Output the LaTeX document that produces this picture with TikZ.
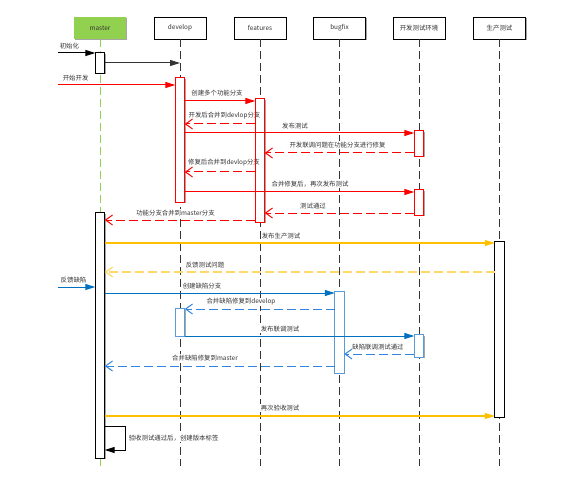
\documentclass[tikz,border=0pt]{standalone}
\usepackage{fontspec}
\newfontfamily\cjk{Noto Sans CJK SC}
\usetikzlibrary{arrows.meta,shadows}
\definecolor{mred}{HTML}{FF0000}
\definecolor{myel}{HTML}{FFC000}
\definecolor{mylt}{HTML}{FFD966}
\definecolor{mblu}{HTML}{0070C0}
\definecolor{mbld}{HTML}{2E86DE}
\definecolor{mblb}{HTML}{5B9BD5}
\definecolor{mgrn}{HTML}{92D050}
\definecolor{mtxt}{HTML}{333333}
\tikzset{
  lbl/.style={font=\cjk\fontsize{6.4}{7}\selectfont, text=mtxt, fill=white, inner sep=0.6pt},
  shd/.style={general shadow={fill=black!35, shadow xshift=1.2pt, shadow yshift=-1.2pt}},
  hdr/.style={draw=black, line width=0.9pt, fill=white, shd, minimum width=52pt, minimum height=22pt, inner sep=0pt, font=\cjk\fontsize{6.4}{7}\selectfont, text=mtxt},
  lifeline/.style={draw=black!80, line width=0.9pt, dash pattern=on 8pt off 4pt},
  actbox/.style={fill=white, shd, minimum width=9pt, inner sep=0pt},
  actborder/.style={draw=#1, line width=0.9pt},
  sync/.style={draw=#1, line width=1pt, -{Triangle[length=10pt,width=6pt]}},
  ret/.style={draw=#1, line width=1pt, dash pattern=on 9pt off 4pt, -{Straight Barb[length=7pt,width=10pt]}},
}
\begin{document}
\begin{tikzpicture}[x=1pt,y=-1pt]
\useasboundingbox (0,0) rectangle (584,500);
% headers
\node[hdr, draw=none, fill=mgrn, general shadow={}] (mH) at (100,28) {master};
\node[hdr] (dH) at (180,28) {develop};
\node[hdr] (fH) at (260,28) {features};
\node[hdr] (bH) at (339.5,28) {bugfix};
\node[hdr] (eH) at (419,28) {开发测试环境};
\node[hdr] (pH) at (499.5,28) {生产测试};
% lifeline ends
\coordinate (mE) at (100,466);
\coordinate (dE) at (180,466);
\coordinate (fE) at (260,466);
\coordinate (bE) at (339.5,466);
\coordinate (eE) at (419,466);
\coordinate (pE) at (499.5,466);
\draw[lifeline, draw=mgrn] (mH.south) -- (mE);
\draw[lifeline] (dH.south) -- (dE);
\draw[lifeline] (fH.south) -- (fE);
\draw[lifeline] (bH.south) -- (bE);
\draw[lifeline] (eH.south) -- (eE);
\draw[lifeline] (pH.south) -- (pE);
% activation areas
\node[actbox, minimum height=20pt] (mA1) at (100,63) {};
\node[actbox, minimum height=124pt] (dA1) at (180,140) {};
\node[actbox, minimum height=123pt] (fA1) at (260,160.5) {};
\node[actbox, minimum height=25pt] (eA1) at (419,143.5) {};
\node[actbox, minimum height=25pt] (eA2) at (419,202.5) {};
\node[actbox, minimum height=245pt] (mA2) at (100,335.5) {};
\node[actbox, minimum height=175pt] (pA) at (499.5,329.5) {};
\node[actbox, minimum height=81pt] (bA) at (339.5,332.5) {};
\node[actbox, minimum height=27pt] (dA2) at (180,322.5) {};
\node[actbox, minimum height=22pt] (eA3) at (419,346) {};
% labels
\node[lbl, anchor=west] (t1) at (59,46) {初始化};
\node[lbl, anchor=west] (t2) at (62,78) {开始开发};
\node[lbl] (t3) at (217,93) {创建多个功能分支};
\node[lbl] (t4) at (224.5,116) {开发后合并到devlop分支};
\node[lbl] (t5) at (295,126) {发布测试};
\node[lbl] (t6) at (337.5,145) {开发联调问题在功能分支进行修复};
\node[lbl] (t7) at (224,163) {修复后合并到devlop分支};
\node[lbl] (t8) at (310,184) {合并修复后，再次发布测试};
\node[lbl] (t9) at (313,206) {测试通过};
\node[lbl] (t10) at (175.5,213) {功能分支合并到master分支};
\node[lbl] (t11) at (281,236) {发布生产测试};
\node[lbl] (t12) at (205,265) {反馈测试问题};
\node[lbl] (t13) at (73.5,280) {反馈缺陷};
\node[lbl] (t14) at (202,286) {创建缺陷分支};
\node[lbl] (t15) at (241,302) {合并缺陷修复到develop};
\node[lbl] (t16) at (280,329) {发布联调测试};
\node[lbl] (t17) at (378,347) {缺陷联调测试通过};
\node[lbl] (t18) at (205,358) {合并缺陷修复到master};
\node[lbl] (t19) at (280,408) {再次验收测试};
\node[lbl, anchor=west] (t20) at (128,438) {验收测试通过后，创建版本标签};
% activation borders
\draw[actborder=black] (mA1.south west) rectangle (mA1.north east);
\draw[actborder=mred] (dA1.south west) rectangle (dA1.north east);
\draw[actborder=mred] (fA1.south west) rectangle (fA1.north east);
\draw[actborder=mred] (eA1.south west) rectangle (eA1.north east);
\draw[actborder=mred] (eA2.south west) rectangle (eA2.north east);
\draw[actborder=black] (mA2.south west) rectangle (mA2.north east);
\draw[actborder=black] (pA.south west) rectangle (pA.north east);
\draw[actborder=mblb] (bA.south west) rectangle (bA.north east);
\draw[actborder=mblb] (dA2.south west) rectangle (dA2.north east);
\draw[actborder=mblb] (eA3.south west) rectangle (eA3.north east);
% free ends
\coordinate (s1) at (58,53);
\coordinate (s2) at (58,85);
\coordinate (s3) at (58,287);
\coordinate (k1) at (125,426);
\coordinate (k2) at (125,450);
% messages
\draw[sync=black] (s1) -- (mA1.west |- s1);
\draw[sync=black!80] (mA1.east |- 0,63) -- (dH |- 0,63);
\draw[sync=mred] (s2) -- (dA1.west |- s2);
\draw[sync=mred] (dA1.east |- 0,101) -- (fA1.west |- 0,101);
\draw[ret=mred] (fA1.west |- 0,124) -- (dA1.east |- 0,124);
\draw[sync=mred] (dA1.east |- 0,133) -- (eA1.west |- 0,133);
\draw[ret=mred] (eA1.west |- 0,153) -- (fA1.east |- 0,153);
\draw[ret=mred] (fA1.west |- 0,172) -- (dA1.east |- 0,172);
\draw[sync=mred] (dA1.east |- 0,192) -- (eA2.west |- 0,192);
\draw[ret=mred] (eA2.west |- 0,213) -- (fA1.east |- 0,213);
\draw[ret=mred] (fA1.west |- 0,220) -- (mA2.east |- 0,220);
\draw[sync=myel, line width=1.2pt] (mA2.east |- 0,243) -- (pA.west |- 0,243);
\draw[ret=mylt, line width=1.2pt] (pA.west |- 0,272) -- (mA2.east |- 0,272);
\draw[sync=mblu] (s3) -- (mA2.west |- s3);
\draw[sync=mblu] (mA2.east |- 0,293) -- (bA.west |- 0,293);
\draw[ret=mbld] (bA.west |- 0,309) -- (dA2.east |- 0,309);
\draw[sync=mblu] (dA2.east |- 0,336) -- (eA3.west |- 0,336);
\draw[ret=mbld] (eA3.west |- 0,354) -- (bA.east |- 0,354);
\draw[ret=mbld] (bA.west |- 0,366) -- (mA2.east |- 0,366);
\draw[sync=myel, line width=1.2pt] (mA2.east |- 0,416) -- (pA.west |- 0,416);
\draw[sync=black] (mA2.east |- k1) -- (k1) -- (k2) -- (mA2.east |- k2);
\end{tikzpicture}
\end{document}
